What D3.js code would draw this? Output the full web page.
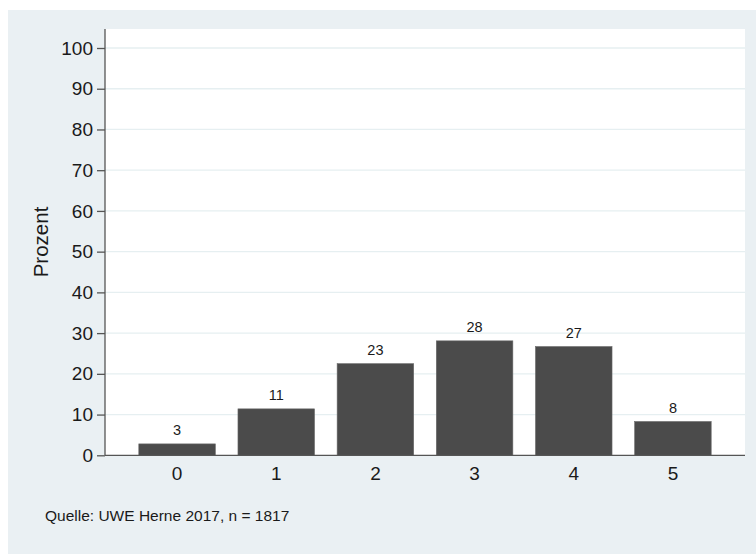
<!DOCTYPE html>
<html><head><meta charset="utf-8">
<script src="https://cdn.jsdelivr.net/npm/d3@7"></script>
<style>body{margin:0;background:#fff}svg{display:block}text{font-family:Arial,"Liberation Sans",sans-serif}</style>
</head><body>
<script>
const categories = ["0","1","2","3","4","5"];
const values = [2.8, 11.4, 22.5, 28.1, 26.7, 8.3];
const valueLabels = ["3","11","23","28","27","8"];
const yTicks = [0,10,20,30,40,50,60,70,80,90,100];
const yTitle = "Prozent";
const source = "Quelle: UWE Herne 2017, n = 1817";

const W = 756, H = 554;
const svg = d3.select("body").append("svg").attr("width", W).attr("height", H);
svg.append("rect").attr("x", 8).attr("y", 10).attr("width", W - 8).attr("height", H - 10).attr("fill", "#eaf0f3");

const pLeft = 105, pRight = 745, pTop = 29, pBottom = 455.3;
svg.append("rect").attr("x", pLeft).attr("y", pTop).attr("width", pRight - pLeft).attr("height", pBottom - pTop).attr("fill", "#ffffff");

const y = d3.scaleLinear().domain([0, 100]).range([pBottom, 48]);
const x = d3.scaleBand().domain(categories).range([127.5, 722.5]).paddingInner(0.228).paddingOuter(0.114);

// gridlines
svg.append("g").selectAll("line").data(yTicks.filter(d => d > 0)).join("line")
  .attr("x1", pLeft).attr("x2", pRight).attr("y1", d => y(d)).attr("y2", d => y(d))
  .attr("stroke", "#e6eff1").attr("stroke-width", 1.3);

// bars
svg.append("g").selectAll("rect").data(values).join("rect")
  .attr("x", (d, i) => x(categories[i])).attr("width", x.bandwidth())
  .attr("y", d => y(d)).attr("height", d => pBottom - y(d))
  .attr("fill", "#4b4b4b").attr("stroke", "#6a6a6a").attr("stroke-width", 0.6);

// value labels
svg.append("g").selectAll("text").data(values).join("text")
  .attr("x", (d, i) => x(categories[i]) + x.bandwidth() / 2).attr("y", d => y(d) - 8.5)
  .attr("text-anchor", "middle").attr("font-size", 14.5).attr("fill", "#1a1a1a")
  .text((d, i) => valueLabels[i]);

// y axis
const yAxis = d3.axisLeft(y).tickValues(yTicks).tickSize(8).tickPadding(4);
const gy = svg.append("g").attr("transform", `translate(${pLeft},0)`).call(yAxis);
gy.select(".domain").attr("d", `M0,${pTop}V${pBottom}`).attr("stroke", "#555").attr("stroke-width", 1.3);
gy.selectAll(".tick line").attr("stroke", "#555").attr("stroke-width", 1.3);
gy.selectAll(".tick text").attr("font-size", 19).attr("fill", "#1a1a1a").attr("font-family", "Arial, 'Liberation Sans', sans-serif");

// x axis
const xAxis = d3.axisBottom(x).tickSize(0).tickPadding(11);
const gx = svg.append("g").attr("transform", `translate(0,${pBottom})`).call(xAxis);
gx.select(".domain").attr("d", `M${pLeft},0H${pRight}`).attr("stroke", "#555").attr("stroke-width", 1.3);
gx.selectAll(".tick text").attr("font-size", 19).attr("fill", "#1a1a1a").attr("font-family", "Arial, 'Liberation Sans', sans-serif");

// y title
svg.append("text").attr("transform", "translate(48,242) rotate(-90)")
  .attr("text-anchor", "middle").attr("font-size", 20.5).attr("fill", "#1a1a1a").text(yTitle);

// source
svg.append("text").attr("x", 45).attr("y", 521).attr("font-size", 15.5).attr("fill", "#1a1a1a").text(source);
</script>
</body></html>
